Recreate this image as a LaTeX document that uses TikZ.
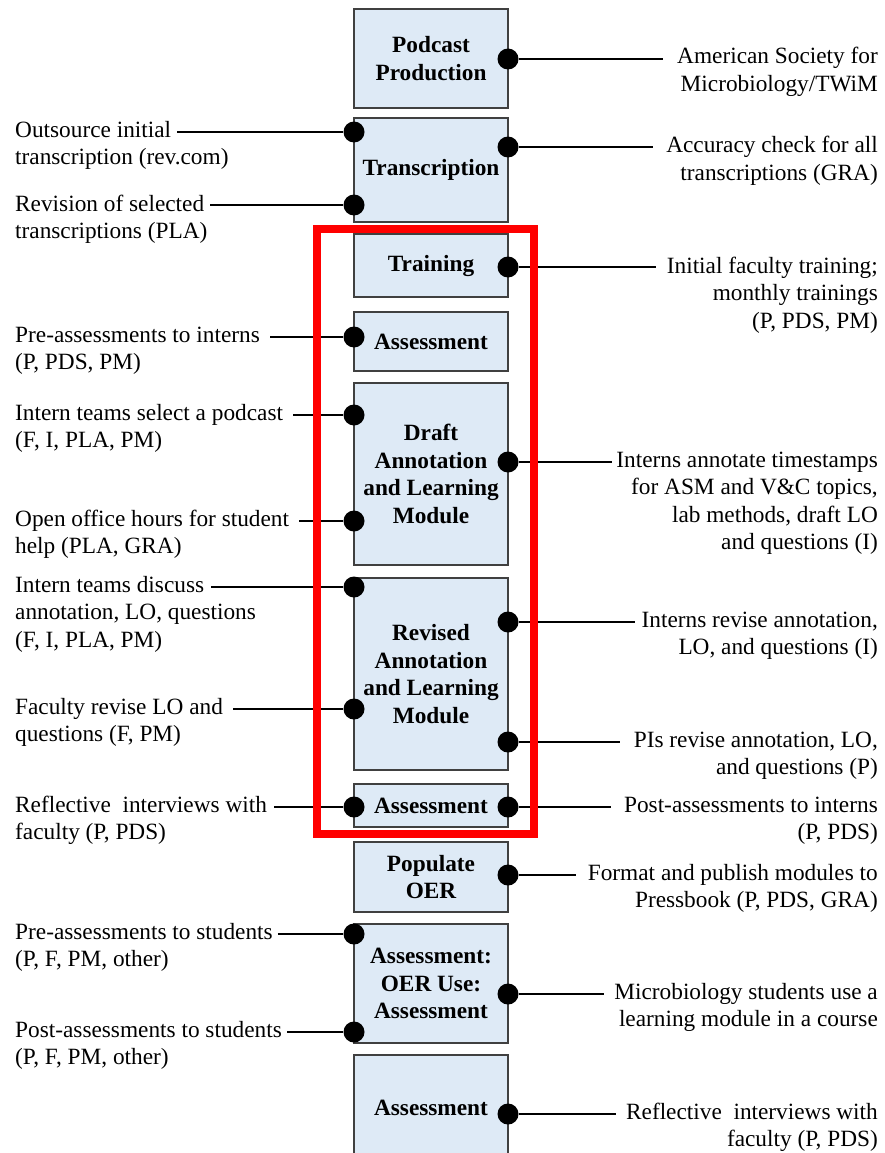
\documentclass[tikz,border=0pt]{standalone}
\usepackage{fontspec}
\setmainfont{Liberation Serif}
\definecolor{boxfill}{HTML}{DEEAF6}
\definecolor{boxline}{HTML}{404040}
\begin{document}
\begin{tikzpicture}[x=1pt,y=-1pt,
  box/.style={draw=boxline, fill=boxfill, line width=1.1pt, minimum width=154pt, inner sep=0pt, align=center, font=\fontsize{23.3}{27.5}\selectfont\bfseries},
  dot/.style={circle, fill=black, inner sep=0pt, minimum size=21pt},
  lab/.style={inner sep=0pt, font=\fontsize{23.3}{27.5}\selectfont},
  conn/.style={line width=1.2pt, black},
  redframe/.style={draw=red, line width=8pt}]
\useasboundingbox (0,0) rectangle (884,1153);
\clip (0,0) rectangle (884,1153);
% boxes
\node[box, minimum height=99pt]  (pod)   at (431,58.5)  {Podcast\\Production};
\node[box, minimum height=104pt] (trans) at (431,170)   {Transcription};
\node[box, minimum height=63pt]  (train) at (431,265.5) {Training};
\node[box, minimum height=59pt]  (assA)  at (431,341.5) {Assessment};
\node[box, minimum height=182pt] (draft) at (431,474)   {Draft\\Annotation\\and Learning\\Module};
\node[box, minimum height=192pt] (rev)   at (431,674)   {Revised\\Annotation\\and Learning\\Module};
\node[box, minimum height=43pt]  (assB)  at (431,805.5) {Assessment};
\node[box, minimum height=70pt]  (pop)   at (431,877)   {Populate\\OER};
\node[box, minimum height=119pt] (oer)   at (431,983.5) {Assessment:\\OER Use:\\Assessment};
\node[box, minimum height=105pt] (assC)  at (431,1107.5) {Assessment};
% dots
\node[dot] (dPod)  at (508,59)  {};
\node[dot] (dTrL1) at (354,132) {};
\node[dot] (dTrL2) at (354,205) {};
\node[dot] (dTrR)  at (508,147) {};
\node[dot] (dTrain) at (508,267) {};
\node[dot] (dAssA) at (354,337) {};
\node[dot] (dDrL1) at (354,415) {};
\node[dot] (dDrL2) at (354,521) {};
\node[dot] (dDrR)  at (508,462) {};
\node[dot] (dRvL1) at (354,587) {};
\node[dot] (dRvL2) at (354,709) {};
\node[dot] (dRvR1) at (508,622) {};
\node[dot] (dRvR2) at (508,742) {};
\node[dot] (dAsBL) at (354,807) {};
\node[dot] (dAsBR) at (508,807) {};
\node[dot] (dPop)  at (508,875) {};
\node[dot] (dOeL1) at (354,934) {};
\node[dot] (dOeL2) at (354,1032) {};
\node[dot] (dOeR)  at (508,994) {};
\node[dot] (dAsC)  at (508,1114) {};
% left labels
\node[lab, anchor=base west] (L1a) at (15,137) {Outsource initial};
\node[lab, anchor=north west, align=left] (L1b) at ([yshift=-8.25pt]L1a.base west) {\strut transcription (rev.com)};
\node[lab, anchor=base west] (L2a) at (15,211) {Revision of selected};
\node[lab, anchor=north west, align=left] (L2b) at ([yshift=-8.25pt]L2a.base west) {\strut transcriptions (PLA)};
\node[lab, anchor=base west] (L3a) at (15,342) {Pre-assessments to interns};
\node[lab, anchor=north west, align=left] (L3b) at ([yshift=-8.25pt]L3a.base west) {\strut (P, PDS, PM)};
\node[lab, anchor=base west] (L4a) at (15,420) {Intern teams select a podcast};
\node[lab, anchor=north west, align=left] (L4b) at ([yshift=-8.25pt]L4a.base west) {\strut (F, I, PLA, PM)};
\node[lab, anchor=base west] (L5a) at (15,526) {Open office hours for student};
\node[lab, anchor=north west, align=left] (L5b) at ([yshift=-8.25pt]L5a.base west) {\strut help (PLA, GRA)};
\node[lab, anchor=base west] (L6a) at (15,592) {Intern teams discuss};
\node[lab, anchor=north west, align=left] (L6b) at ([yshift=-8.25pt]L6a.base west) {\strut annotation, LO, questions\\(F, I, PLA, PM)};
\node[lab, anchor=base west] (L7a) at (15,714) {Faculty revise LO and};
\node[lab, anchor=north west, align=left] (L7b) at ([yshift=-8.25pt]L7a.base west) {\strut questions (F, PM)};
\node[lab, anchor=base west] (L8a) at (15,812) {Reflective\ \ interviews with};
\node[lab, anchor=north west, align=left] (L8b) at ([yshift=-8.25pt]L8a.base west) {\strut faculty (P, PDS)};
\node[lab, anchor=base west] (L9a) at (15,939) {Pre-assessments to students};
\node[lab, anchor=north west, align=left] (L9b) at ([yshift=-8.25pt]L9a.base west) {\strut (P, F, PM, other)};
\node[lab, anchor=base west] (L10a) at (15,1037) {Post-assessments to students};
\node[lab, anchor=north west, align=left] (L10b) at ([yshift=-8.25pt]L10a.base west) {\strut (P, F, PM, other)};
% right labels
\node[lab, anchor=base east] (R1a) at (878,64) {American Society for};
\node[lab, anchor=north east, align=right] (R1b) at ([yshift=-8.25pt]R1a.base east) {\strut Microbiology/TWiM};
\node[lab, anchor=base east] (R2a) at (878,153) {Accuracy check for all};
\node[lab, anchor=north east, align=right] (R2b) at ([yshift=-8.25pt]R2a.base east) {\strut transcriptions (GRA)};
\node[lab, anchor=base east] (R3a) at (878,273) {Initial faculty training;};
\node[lab, anchor=north east, align=right] (R3b) at ([yshift=-8.25pt]R3a.base east) {\strut monthly trainings\\(P, PDS, PM)};
\node[lab, anchor=base east] (R4a) at (878,467) {Interns annotate timestamps};
\node[lab, anchor=north east, align=right] (R4b) at ([yshift=-8.25pt]R4a.base east) {\strut for ASM and V\&C topics,\\lab methods, draft LO\\and questions (I)};
\node[lab, anchor=base east] (R5a) at (878,627) {Interns revise annotation,};
\node[lab, anchor=north east, align=right] (R5b) at ([yshift=-8.25pt]R5a.base east) {\strut LO, and questions (I)};
\node[lab, anchor=base east] (R6a) at (878,747) {PIs revise annotation, LO,};
\node[lab, anchor=north east, align=right] (R6b) at ([yshift=-8.25pt]R6a.base east) {\strut and questions (P)};
\node[lab, anchor=base east] (R7a) at (878,812) {Post-assessments to interns};
\node[lab, anchor=north east, align=right] (R7b) at ([yshift=-8.25pt]R7a.base east) {\strut (P, PDS)};
\node[lab, anchor=base east] (R8a) at (878,880) {Format and publish modules to};
\node[lab, anchor=north east, align=right] (R8b) at ([yshift=-8.25pt]R8a.base east) {\strut Pressbook (P, PDS, GRA)};
\node[lab, anchor=base east] (R9a) at (878,999) {Microbiology students use a};
\node[lab, anchor=north east, align=right] (R9b) at ([yshift=-8.25pt]R9a.base east) {\strut learning module in a course};
\node[lab, anchor=base east] (R10a) at (878,1119) {Reflective\ \ interviews with};
\node[lab, anchor=north east, align=right] (R10b) at ([yshift=-8.25pt]R10a.base east) {\strut faculty (P, PDS)};
% left connectors
\draw[conn] ([xshift=6pt]L1a.east |- dTrL1) -- (dTrL1);
\draw[conn] ([xshift=6pt]L2a.east |- dTrL2) -- (dTrL2);
\draw[conn] ([xshift=10pt]L3a.east |- dAssA) -- (dAssA);
\draw[conn] ([xshift=10pt]L4a.east |- dDrL1) -- (dDrL1);
\draw[conn] ([xshift=10pt]L5a.east |- dDrL2) -- (dDrL2);
\draw[conn] ([xshift=7pt]L6a.east |- dRvL1) -- (dRvL1);
\draw[conn] ([xshift=10pt]L7a.east |- dRvL2) -- (dRvL2);
\draw[conn] ([xshift=7pt]L8a.east |- dAsBL) -- (dAsBL);
\draw[conn] ([xshift=5pt]L9a.east |- dOeL1) -- (dOeL1);
\draw[conn] ([xshift=5pt]L10a.east |- dOeL2) -- (dOeL2);
% right connectors
\draw[conn] (dPod) -- ([xshift=-14pt]R1a.west |- dPod);
\draw[conn] (dTrR) -- ([xshift=-13pt]R2a.west |- dTrR);
\draw[conn] (dTrain) -- ([xshift=-11pt]R3a.west |- dTrain);
\draw[conn] (dDrR) -- ([xshift=-4pt]R4a.west |- dDrR);
\draw[conn] (dRvR1) -- ([xshift=-6pt]R5a.west |- dRvR1);
\draw[conn] (dRvR2) -- ([xshift=-14pt]R6a.west |- dRvR2);
\draw[conn] (dAsBR) -- ([xshift=-13pt]R7a.west |- dAsBR);
\draw[conn] (dPop) -- ([xshift=-12pt]R8a.west |- dPop);
\draw[conn] (dOeR) -- ([xshift=-10pt]R9a.west |- dOeR);
\draw[conn] (dAsC) -- ([xshift=-10pt]R10a.west |- dAsC);
% red frame
\draw[redframe] (317,229) rectangle (534,834);
\end{tikzpicture}
\end{document}
